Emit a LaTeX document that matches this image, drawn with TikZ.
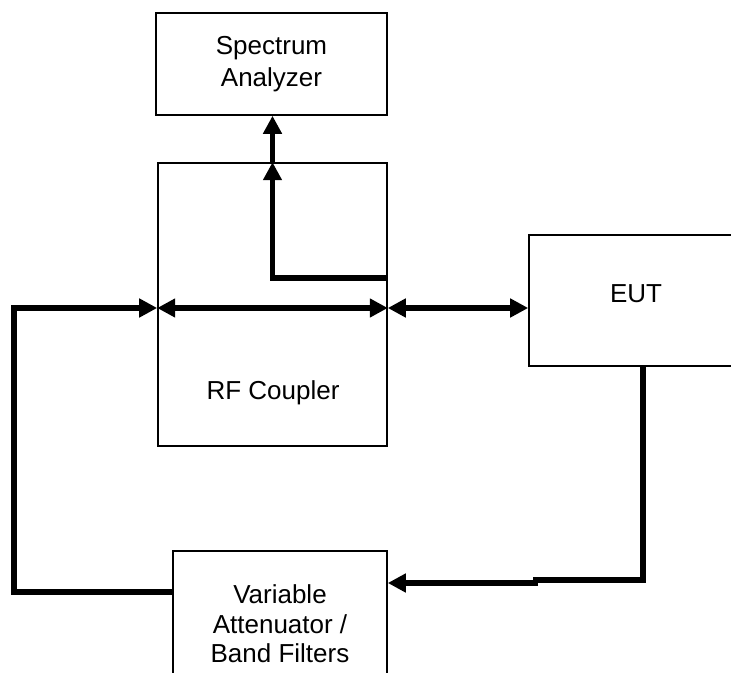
\documentclass[tikz,border=0pt]{standalone}
\usepackage{fontspec}
\setmainfont{Liberation Sans}
\usetikzlibrary{arrows.meta,calc}
\tikzset{
	blockbox/.style={draw, line width=1.2pt, inner sep=0pt, align=center, font=\fontsize{19.5}{22}\selectfont},
	blocktext/.style={inner sep=0pt, align=center, font=\fontsize{19.5}{22}\selectfont},
	feed/.style={line width=3.9pt, -{Triangle[length=13.5pt,width=13.5pt]}},
	feedboth/.style={line width=3.9pt, {Triangle[length=13.5pt,width=13.5pt]}-{Triangle[length=13.5pt,width=13.5pt]}},
	feedline/.style={line width=3.9pt}
}

\begin{document}
\begin{tikzpicture}[x=0.75pt, y=-0.75pt]
			%%%%% START %%%%%
			\useasboundingbox (0, 0) rectangle (731, 673);
			\clip (0, 0) rectangle (731, 673);
			
			\node[blockbox, minimum width=173.25pt, minimum height=76.5pt, font=\fontsize{19.5}{24}\selectfont] (sa) at (271.5, 64) {Spectrum\\Analyzer};
			\node[blockbox, minimum width=171.75pt, minimum height=212.25pt] (coupler) at (272.5, 304.5) {};
			\node[blocktext] (couplertxt) at (273, 393) {RF Coupler};
			\node[blockbox, minimum width=160.5pt, minimum height=98.25pt] (eut) at (636, 300.5) {};
			\node[blocktext] (euttxt) at (636, 294) {EUT};
			\node[blockbox, minimum width=160.5pt, minimum height=109.5pt] (filter) at (280, 624) {Variable\\Attenuator /\\Band Filters};
			
			% coupled port up to the analyzer
			\coordinate (tap) at (coupler.east |- 0, 278);
			\draw[feed] (tap) -| (coupler.north);
			\draw[feed] (coupler.north) -- (coupler.north |- sa.south);
			
			% main path through the coupler
			\coordinate (cin) at (coupler.west |- 0, 308);
			\coordinate (cout) at (coupler.east |- 0, 308);
			\draw[feedboth] (cin) -- (cout);
			\draw[feedboth] (cout) -- (eut.west |- cout);
			
			% loop back from the EUT through the filters
			\coordinate (eutout) at (eut.south -| 643, 0);
			\draw[feedline] (eutout) |- (533, 580);
			\draw[feed] (538, 583) -- (filter.east |- 0, 583);
			\draw[feed] (filter.west |- 0, 592) -| (14, 308) -- (cin);
			
			%%%%% END %%%%%
\end{tikzpicture}
\end{document}
